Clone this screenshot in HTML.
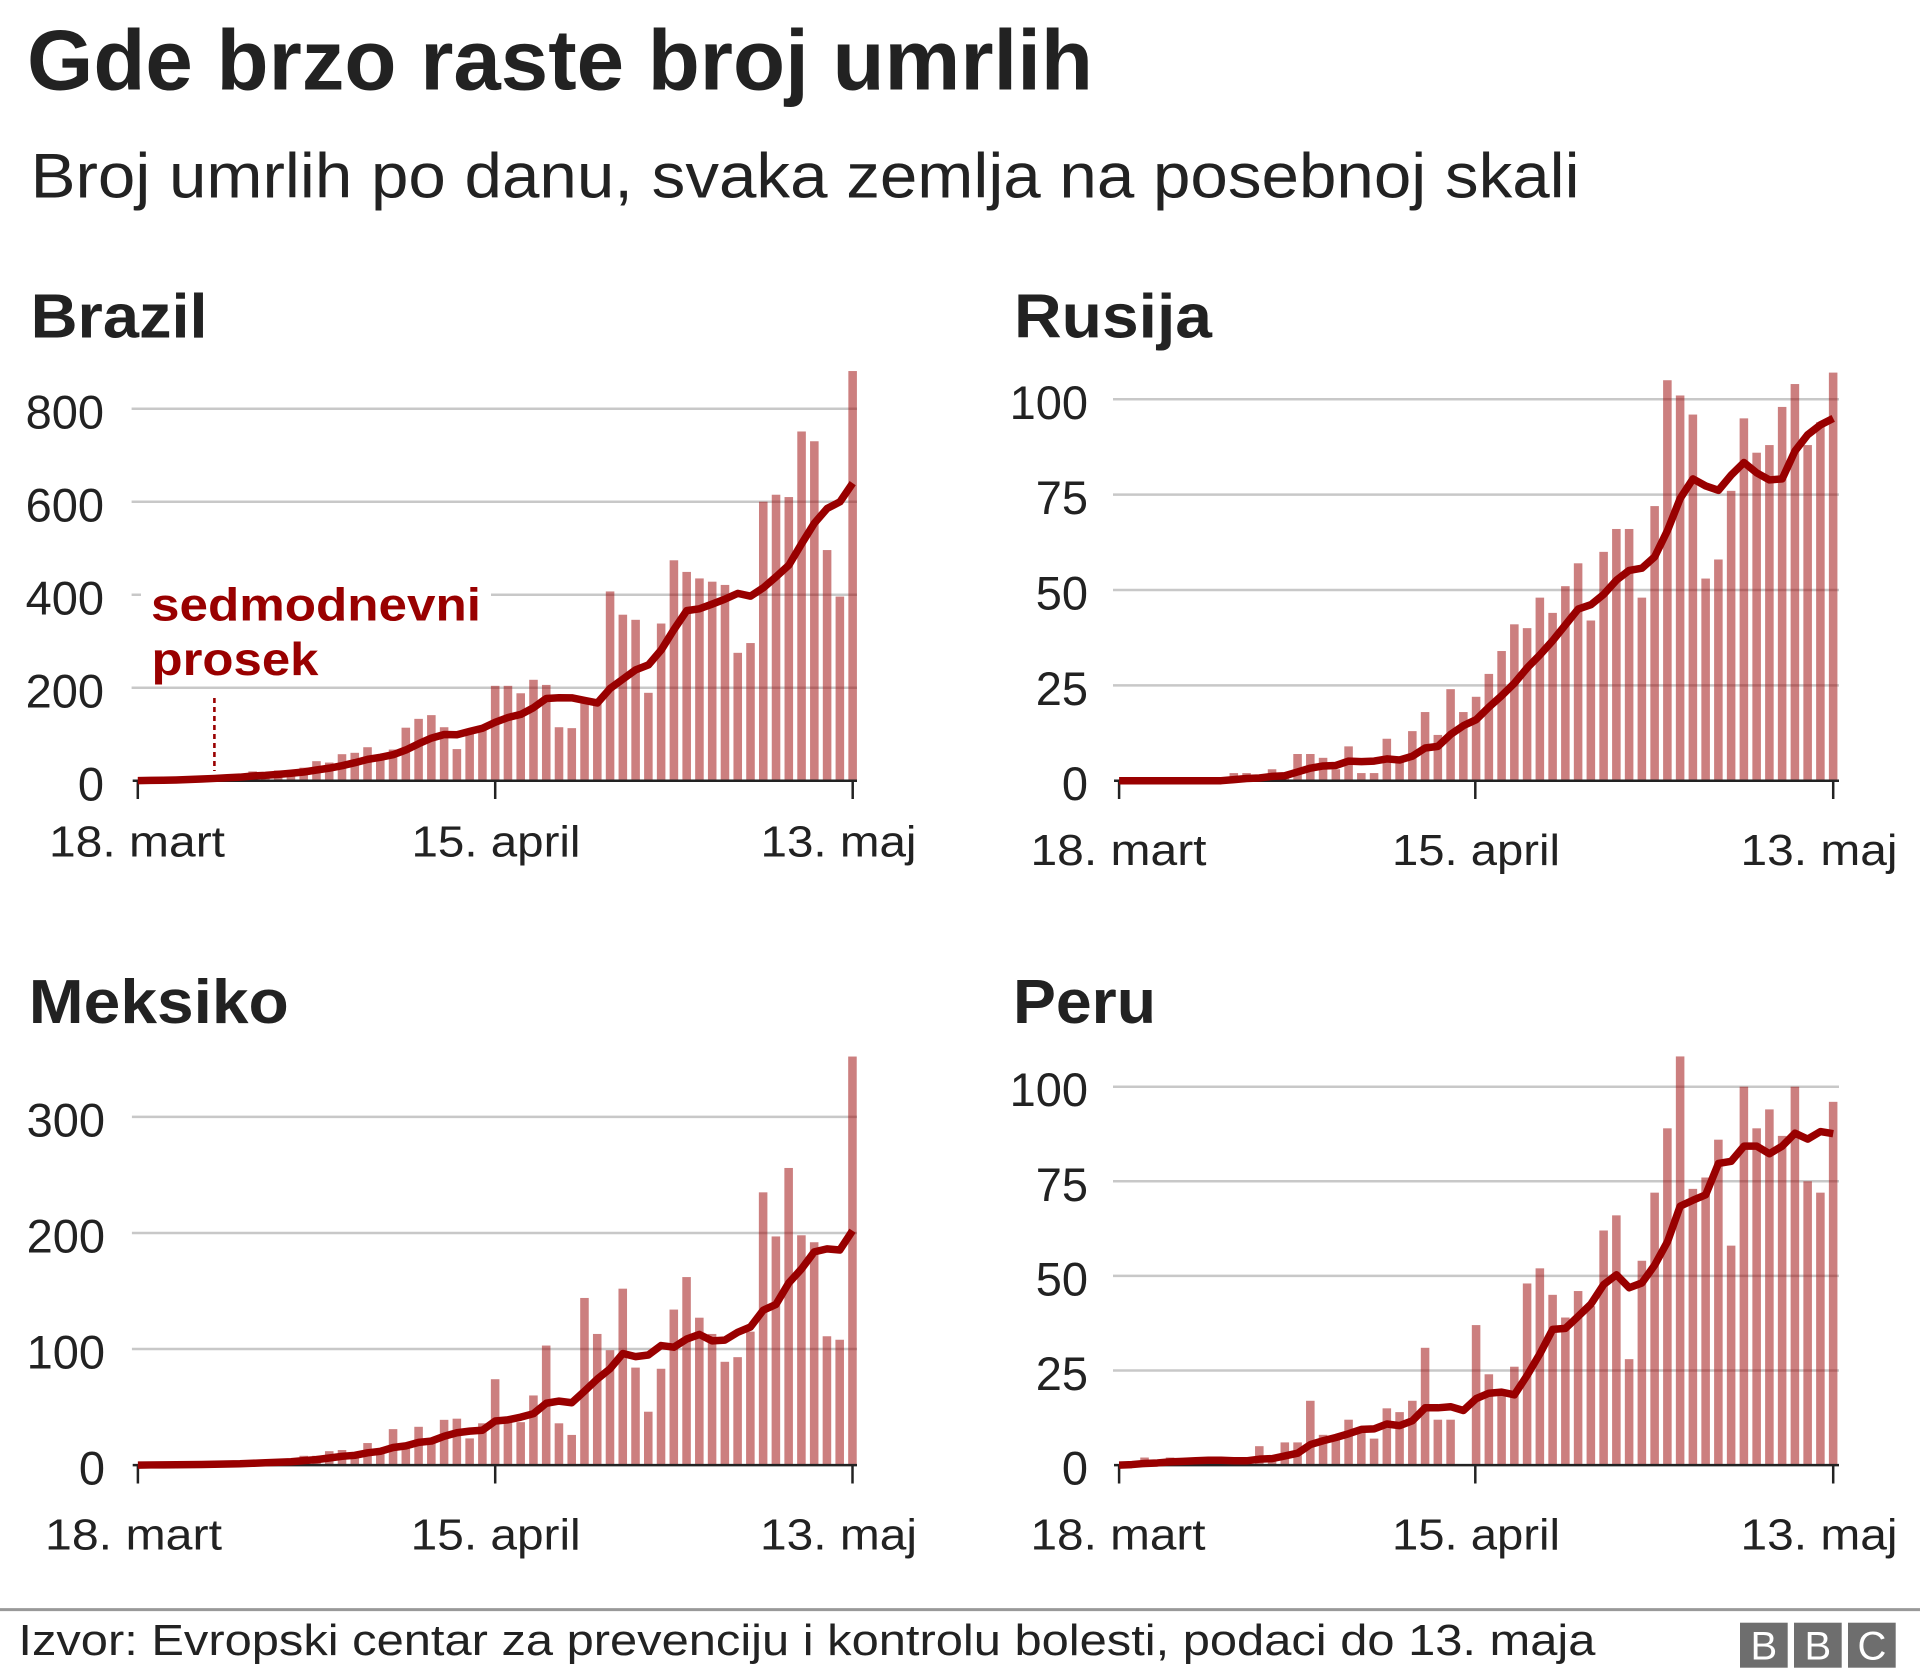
<!DOCTYPE html>
<html><head><meta charset="utf-8">
<style>
html,body{margin:0;padding:0;background:#fff;width:1920px;height:1680px;overflow:hidden}
svg{display:block}
text{font-family:"Liberation Sans",Arial,sans-serif;fill:#222}
.b{font-weight:bold}
.grid line{stroke:#c8c8c8;stroke-width:2.5}
.ax line{stroke:#222;stroke-width:2.5}
.bars rect{fill:#990000;fill-opacity:0.5}
.avg{fill:none;stroke:#990000;stroke-width:7.5;stroke-linejoin:round}
.yl{font-size:47px;text-anchor:end}
.xl{font-size:44px}
</style></head>
<body>
<svg width="1920" height="1680" viewBox="0 0 1920 1680" xmlns="http://www.w3.org/2000/svg">
<rect width="1920" height="1680" fill="#fff"/>

<!-- Titles -->
<text class="b" x="27" y="89.3" font-size="85" textLength="1066" lengthAdjust="spacingAndGlyphs">Gde brzo raste broj umrlih</text>
<text x="30.6" y="197.3" font-size="63" textLength="1549" lengthAdjust="spacingAndGlyphs">Broj umrlih po danu, svaka zemlja na posebnoj skali</text>

<text class="b" x="30.6" y="337.3" font-size="62" textLength="177" lengthAdjust="spacingAndGlyphs">Brazil</text>
<text class="b" x="1014" y="337.3" font-size="62" textLength="198" lengthAdjust="spacingAndGlyphs">Rusija</text>
<text class="b" x="28.8" y="1023" font-size="62" textLength="260" lengthAdjust="spacingAndGlyphs">Meksiko</text>
<text class="b" x="1013" y="1023" font-size="62" textLength="143" lengthAdjust="spacingAndGlyphs">Peru</text>

<!-- ===== BRAZIL ===== -->
<g class="grid">
<line x1="131.6" x2="857" y1="408.7" y2="408.7"/>
<line x1="131.6" x2="857" y1="501.7" y2="501.7"/>
<line x1="131.6" x2="857" y1="594.7" y2="594.7"/>
<line x1="131.6" x2="857" y1="687.7" y2="687.7"/>
</g>
<g class="yl-g">
<text class="yl" x="104" y="428.7">800</text>
<text class="yl" x="104" y="521.7">600</text>
<text class="yl" x="104" y="614.7">400</text>
<text class="yl" x="104" y="707.7">200</text>
<text class="yl" x="104" y="800.5">0</text>
</g>
<!-- annotation background -->
<rect x="141" y="578" width="350" height="104" fill="#fff"/>
<g class="bars" transform="translate(137.8 780.7) scale(12.766 -0.465)">
<rect x="-.34" width=".67" height="1"/><rect x=".66" width=".67" height="3"/><rect x="1.66" width=".67" height="2"/><rect x="2.66" width=".67" height="5"/><rect x="3.66" width=".67" height="7"/><rect x="4.66" width=".67" height="7"/><rect x="5.66" width=".67" height="9"/><rect x="6.66" width=".67" height="12"/><rect x="7.66" width=".67" height="11"/><rect x="8.66" width=".67" height="20"/><rect x="9.66" width=".67" height="15"/><rect x="10.66" width=".67" height="22"/><rect x="11.66" width=".67" height="23"/><rect x="12.66" width=".67" height="28"/><rect x="13.66" width=".67" height="42"/><rect x="14.66" width=".67" height="39"/><rect x="15.66" width=".67" height="57"/><rect x="16.66" width=".67" height="60"/><rect x="17.66" width=".67" height="72"/><rect x="18.66" width=".67" height="54"/><rect x="19.66" width=".67" height="67"/><rect x="20.66" width=".67" height="114"/><rect x="21.66" width=".67" height="133"/><rect x="22.66" width=".67" height="141"/><rect x="23.66" width=".67" height="115"/><rect x="24.66" width=".67" height="68"/><rect x="25.66" width=".67" height="105"/><rect x="26.66" width=".67" height="114"/><rect x="27.66" width=".67" height="204"/><rect x="28.66" width=".67" height="204"/><rect x="29.66" width=".67" height="188"/><rect x="30.66" width=".67" height="217"/><rect x="31.66" width=".67" height="206"/><rect x="32.66" width=".67" height="115"/><rect x="33.66" width=".67" height="113"/><rect x="34.66" width=".67" height="166"/><rect x="35.66" width=".67" height="165"/><rect x="36.66" width=".67" height="407"/><rect x="37.66" width=".67" height="357"/><rect x="38.66" width=".67" height="346"/><rect x="39.66" width=".67" height="189"/><rect x="40.66" width=".67" height="338"/><rect x="41.66" width=".67" height="474"/><rect x="42.66" width=".67" height="449"/><rect x="43.66" width=".67" height="435"/><rect x="44.66" width=".67" height="428"/><rect x="45.66" width=".67" height="421"/><rect x="46.66" width=".67" height="275"/><rect x="47.66" width=".67" height="296"/><rect x="48.66" width=".67" height="600"/><rect x="49.66" width=".67" height="615"/><rect x="50.66" width=".67" height="610"/><rect x="51.66" width=".67" height="751"/><rect x="52.66" width=".67" height="730"/><rect x="53.66" width=".67" height="496"/><rect x="54.66" width=".67" height="396"/><rect x="55.66" width=".67" height="881"/>
</g>
<g class="ax">
<line x1="132.7" x2="857" y1="780.7" y2="780.7"/>
<line x1="137.8" x2="137.8" y1="780" y2="799"/>
<line x1="495.2" x2="495.2" y1="780" y2="799"/>
<line x1="852.7" x2="852.7" y1="780" y2="799"/>
</g>
<g transform="translate(137.8 780.7) scale(12.766 -0.465)">
<polyline class="avg" vector-effect="non-scaling-stroke" points="0,0.14 1,0.57 2,0.86 3,1.57 4,2.57 5,3.57 6,4.86 7,6.43 8,7.57 9,10.14 10,11.57 11,13.71 12,16 13,18.71 14,23 15,27 16,32.29 17,38.71 18,45.86 19,50.29 20,55.86 21,66.14 22,79.57 23,91.57 24,99.43 25,98.86 26,106.14 27,112.86 28,125.71 29,135.86 30,142.57 31,157.14 32,176.86 33,178.29 34,178.14 35,172.71 36,167.14 37,198.43 38,218.43 39,238.43 40,249 41,281.14 42,325.14 43,365.71 44,369.71 45,379.86 46,390.57 47,402.86 48,396.86 49,414.86 50,438.57 51,463.57 52,509.71 53,553.86 54,585.43 55,599.71 56,639.86"/>
</g>
<text class="b" x="151" y="620.7" font-size="46" fill="#990000" style="fill:#990000" textLength="330" lengthAdjust="spacingAndGlyphs">sedmodnevni</text>
<text class="b" x="151.5" y="675" font-size="46" fill="#990000" style="fill:#990000" textLength="167" lengthAdjust="spacingAndGlyphs">prosek</text>
<line x1="214.4" x2="214.4" y1="698" y2="771" stroke="#990000" stroke-width="2.6" stroke-dasharray="5 4"/>
<text class="xl" x="49" y="856.7" textLength="176" lengthAdjust="spacingAndGlyphs">18. mart</text>
<text class="xl" x="411.5" y="856.7" textLength="169" lengthAdjust="spacingAndGlyphs">15. april</text>
<text class="xl" x="760.5" y="856.7" textLength="156" lengthAdjust="spacingAndGlyphs">13. maj</text>

<!-- ===== RUSSIA ===== -->
<g class="grid">
<line x1="1113" x2="1839" y1="399.3" y2="399.3"/>
<line x1="1113" x2="1839" y1="494.65" y2="494.65"/>
<line x1="1113" x2="1839" y1="590" y2="590"/>
<line x1="1113" x2="1839" y1="685.35" y2="685.35"/>
</g>
<text class="yl" x="1088" y="418.8">100</text>
<text class="yl" x="1088" y="514.2">75</text>
<text class="yl" x="1088" y="609.5">50</text>
<text class="yl" x="1088" y="704.9">25</text>
<text class="yl" x="1088" y="800.2">0</text>
<g class="bars" transform="translate(1119.1 780.7) scale(12.752 -3.814)">
<rect x="8.66" width=".67" height="2"/><rect x="9.66" width=".67" height="2"/><rect x="10.66" width=".67" height="1"/><rect x="11.66" width=".67" height="3"/><rect x="12.66" width=".67" height="1"/><rect x="13.66" width=".67" height="7"/><rect x="14.66" width=".67" height="7"/><rect x="15.66" width=".67" height="6"/><rect x="16.66" width=".67" height="3"/><rect x="17.66" width=".67" height="9"/><rect x="18.66" width=".67" height="2"/><rect x="19.66" width=".67" height="2"/><rect x="20.66" width=".67" height="11"/><rect x="21.66" width=".67" height="5"/><rect x="22.66" width=".67" height="13"/><rect x="23.66" width=".67" height="18"/><rect x="24.66" width=".67" height="12"/><rect x="25.66" width=".67" height="24"/><rect x="26.66" width=".67" height="18"/><rect x="27.66" width=".67" height="22"/><rect x="28.66" width=".67" height="28"/><rect x="29.66" width=".67" height="34"/><rect x="30.66" width=".67" height="41"/><rect x="31.66" width=".67" height="40"/><rect x="32.66" width=".67" height="48"/><rect x="33.66" width=".67" height="44"/><rect x="34.66" width=".67" height="51"/><rect x="35.66" width=".67" height="57"/><rect x="36.66" width=".67" height="42"/><rect x="37.66" width=".67" height="60"/><rect x="38.66" width=".67" height="66"/><rect x="39.66" width=".67" height="66"/><rect x="40.66" width=".67" height="48"/><rect x="41.66" width=".67" height="72"/><rect x="42.66" width=".67" height="105"/><rect x="43.66" width=".67" height="101"/><rect x="44.66" width=".67" height="96"/><rect x="45.66" width=".67" height="53"/><rect x="46.66" width=".67" height="58"/><rect x="47.66" width=".67" height="76"/><rect x="48.66" width=".67" height="95"/><rect x="49.66" width=".67" height="86"/><rect x="50.66" width=".67" height="88"/><rect x="51.66" width=".67" height="98"/><rect x="52.66" width=".67" height="104"/><rect x="53.66" width=".67" height="88"/><rect x="54.66" width=".67" height="94"/><rect x="55.66" width=".67" height="107"/>
</g>
<g class="ax">
<line x1="1114" x2="1839" y1="780.7" y2="780.7"/>
<line x1="1119.1" x2="1119.1" y1="780" y2="799"/>
<line x1="1475.3" x2="1475.3" y1="780" y2="799"/>
<line x1="1833.2" x2="1833.2" y1="780" y2="799"/>
</g>
<g transform="translate(1119.1 780.7) scale(12.752 -3.814)">
<polyline class="avg" vector-effect="non-scaling-stroke" points="0,0 1,0 2,0 3,0 4,0 5,0 6,0 7,0 8,0 9,0.29 10,0.57 11,0.71 12,1.14 13,1.29 14,2.29 15,3.29 16,3.86 17,4 18,5.14 19,5 20,5.14 21,5.71 22,5.43 23,6.43 24,8.57 25,9 26,12.14 27,14.43 28,16 29,19.29 30,22.29 31,25.57 32,29.57 33,33 34,36.71 35,40.86 36,45 37,46.14 38,48.86 39,52.57 40,55.14 41,55.71 42,58.71 43,65.57 44,74 45,79.14 46,77.29 47,76.14 48,80.14 49,83.43 50,80.71 51,78.86 52,79.14 53,86.43 54,90.71 55,93.29 56,95"/>
</g>
<text class="xl" x="1030.5" y="865" textLength="176" lengthAdjust="spacingAndGlyphs">18. mart</text>
<text class="xl" x="1392" y="865" textLength="168" lengthAdjust="spacingAndGlyphs">15. april</text>
<text class="xl" x="1740.5" y="865" textLength="157" lengthAdjust="spacingAndGlyphs">13. maj</text>

<!-- ===== MEXICO ===== -->
<g class="grid">
<line x1="131.9" x2="857" y1="1116.9" y2="1116.9"/>
<line x1="131.9" x2="857" y1="1233" y2="1233"/>
<line x1="131.9" x2="857" y1="1349" y2="1349"/>
</g>
<text class="yl" x="105" y="1136.4">300</text>
<text class="yl" x="105" y="1252.5">200</text>
<text class="yl" x="105" y="1368.5">100</text>
<text class="yl" x="105" y="1484.3">0</text>
<g class="bars" transform="translate(137.9 1465.1) scale(12.761 -1.1607)">
<rect x=".66" width=".67" height="1"/><rect x="2.66" width=".67" height="1"/><rect x="3.66" width=".67" height="1"/><rect x="4.66" width=".67" height="1"/><rect x="5.66" width=".67" height="1"/><rect x="6.66" width=".67" height="2"/><rect x="7.66" width=".67" height="2"/><rect x="8.66" width=".67" height="3"/><rect x="9.66" width=".67" height="4"/><rect x="10.66" width=".67" height="4"/><rect x="11.66" width=".67" height="4"/><rect x="12.66" width=".67" height="8"/><rect x="13.66" width=".67" height="8"/><rect x="14.66" width=".67" height="12"/><rect x="15.66" width=".67" height="13"/><rect x="16.66" width=".67" height="10"/><rect x="17.66" width=".67" height="19"/><rect x="18.66" width=".67" height="13"/><rect x="19.66" width=".67" height="31"/><rect x="20.66" width=".67" height="18"/><rect x="21.66" width=".67" height="33"/><rect x="22.66" width=".67" height="21"/><rect x="23.66" width=".67" height="39"/><rect x="24.66" width=".67" height="40"/><rect x="25.66" width=".67" height="23"/><rect x="26.66" width=".67" height="36"/><rect x="27.66" width=".67" height="74"/><rect x="28.66" width=".67" height="40"/><rect x="29.66" width=".67" height="37"/><rect x="30.66" width=".67" height="60"/><rect x="31.66" width=".67" height="103"/><rect x="32.66" width=".67" height="36"/><rect x="33.66" width=".67" height="26"/><rect x="34.66" width=".67" height="144"/><rect x="35.66" width=".67" height="113"/><rect x="36.66" width=".67" height="99"/><rect x="37.66" width=".67" height="152"/><rect x="38.66" width=".67" height="84"/><rect x="39.66" width=".67" height="46"/><rect x="40.66" width=".67" height="83"/><rect x="41.66" width=".67" height="134"/><rect x="42.66" width=".67" height="162"/><rect x="43.66" width=".67" height="127"/><rect x="44.66" width=".67" height="113"/><rect x="45.66" width=".67" height="89"/><rect x="46.66" width=".67" height="93"/><rect x="47.66" width=".67" height="115"/><rect x="48.66" width=".67" height="235"/><rect x="49.66" width=".67" height="197"/><rect x="50.66" width=".67" height="256"/><rect x="51.66" width=".67" height="198"/><rect x="52.66" width=".67" height="192"/><rect x="53.66" width=".67" height="111"/><rect x="54.66" width=".67" height="108"/><rect x="55.66" width=".67" height="352"/>
</g>
<g class="ax">
<line x1="132.7" x2="857" y1="1465.1" y2="1465.1"/>
<line x1="137.9" x2="137.9" y1="1464.4" y2="1483.5"/>
<line x1="495.2" x2="495.2" y1="1464.4" y2="1483.5"/>
<line x1="852.5" x2="852.5" y1="1464.4" y2="1483.5"/>
</g>
<g transform="translate(137.9 1465.1) scale(12.761 -1.1607)">
<polyline class="avg" vector-effect="non-scaling-stroke" points="0,0 1,0.14 2,0.14 3,0.29 4,0.43 5,0.57 6,0.71 7,1 8,1.14 9,1.57 10,2 11,2.43 12,2.86 13,3.86 14,4.71 15,6.14 16,7.57 17,8.43 18,10.57 19,11.86 20,15.14 21,16.57 22,19.57 23,20.71 24,24.86 25,27.86 26,29.29 27,30 28,38 29,39 30,41.29 31,44.29 32,53.29 33,55.14 34,53.71 35,63.71 36,74.14 37,83 38,96.14 39,93.43 40,94.86 41,103 42,101.57 43,108.57 44,112.57 45,107 46,107.71 47,114.43 48,119 49,133.43 50,138.43 51,156.86 52,169 53,183.71 54,186.29 55,185.29 56,202"/>
</g>
<text class="xl" x="45" y="1549.3" textLength="177" lengthAdjust="spacingAndGlyphs">18. mart</text>
<text class="xl" x="410.7" y="1549.3" textLength="170" lengthAdjust="spacingAndGlyphs">15. april</text>
<text class="xl" x="760" y="1549.3" textLength="157" lengthAdjust="spacingAndGlyphs">13. maj</text>

<!-- ===== PERU ===== -->
<g class="grid">
<line x1="1113" x2="1839" y1="1086.7" y2="1086.7"/>
<line x1="1113" x2="1839" y1="1181.3" y2="1181.3"/>
<line x1="1113" x2="1839" y1="1275.9" y2="1275.9"/>
<line x1="1113" x2="1839" y1="1370.5" y2="1370.5"/>
</g>
<text class="yl" x="1088" y="1106">100</text>
<text class="yl" x="1088" y="1200.8">75</text>
<text class="yl" x="1088" y="1295.4">50</text>
<text class="yl" x="1088" y="1390">25</text>
<text class="yl" x="1088" y="1484.3">0</text>
<g class="bars" transform="translate(1119.1 1465.1) scale(12.752 -3.784)">
<rect x=".66" width=".67" height="1"/><rect x="1.66" width=".67" height="2"/><rect x="2.66" width=".67" height="1"/><rect x="3.66" width=".67" height="2"/><rect x="4.66" width=".67" height="1"/><rect x="5.66" width=".67" height="1"/><rect x="6.66" width=".67" height="1"/><rect x="7.66" width=".67" height="1"/><rect x="8.66" width=".67" height="1"/><rect x="9.66" width=".67" height="1"/><rect x="10.66" width=".67" height="5"/><rect x="11.66" width=".67" height="2"/><rect x="12.66" width=".67" height="6"/><rect x="13.66" width=".67" height="6"/><rect x="14.66" width=".67" height="17"/><rect x="15.66" width=".67" height="8"/><rect x="16.66" width=".67" height="7"/><rect x="17.66" width=".67" height="12"/><rect x="18.66" width=".67" height="10"/><rect x="19.66" width=".67" height="7"/><rect x="20.66" width=".67" height="15"/><rect x="21.66" width=".67" height="14"/><rect x="22.66" width=".67" height="17"/><rect x="23.66" width=".67" height="31"/><rect x="24.66" width=".67" height="12"/><rect x="25.66" width=".67" height="12"/><rect x="27.66" width=".67" height="37"/><rect x="28.66" width=".67" height="24"/><rect x="29.66" width=".67" height="19"/><rect x="30.66" width=".67" height="26"/><rect x="31.66" width=".67" height="48"/><rect x="32.66" width=".67" height="52"/><rect x="33.66" width=".67" height="45"/><rect x="34.66" width=".67" height="39"/><rect x="35.66" width=".67" height="46"/><rect x="36.66" width=".67" height="42"/><rect x="37.66" width=".67" height="62"/><rect x="38.66" width=".67" height="66"/><rect x="39.66" width=".67" height="28"/><rect x="40.66" width=".67" height="54"/><rect x="41.66" width=".67" height="72"/><rect x="42.66" width=".67" height="89"/><rect x="43.66" width=".67" height="108"/><rect x="44.66" width=".67" height="73"/><rect x="45.66" width=".67" height="76"/><rect x="46.66" width=".67" height="86"/><rect x="47.66" width=".67" height="58"/><rect x="48.66" width=".67" height="100"/><rect x="49.66" width=".67" height="89"/><rect x="50.66" width=".67" height="94"/><rect x="51.66" width=".67" height="87"/><rect x="52.66" width=".67" height="100"/><rect x="53.66" width=".67" height="75"/><rect x="54.66" width=".67" height="72"/><rect x="55.66" width=".67" height="96"/>
</g>
<g class="ax">
<line x1="1114" x2="1839" y1="1465.1" y2="1465.1"/>
<line x1="1119.1" x2="1119.1" y1="1464.4" y2="1483.5"/>
<line x1="1475.3" x2="1475.3" y1="1464.4" y2="1483.5"/>
<line x1="1833.2" x2="1833.2" y1="1464.4" y2="1483.5"/>
</g>
<g transform="translate(1119.1 1465.1) scale(12.752 -3.784)">
<polyline class="avg" vector-effect="non-scaling-stroke" points="0,0 1,0.14 2,0.43 3,0.57 4,0.86 5,1 6,1.14 7,1.29 8,1.29 9,1.14 10,1.14 11,1.57 12,1.71 13,2.43 14,3.14 15,5.43 16,6.43 17,7.29 18,8.29 19,9.43 20,9.57 21,10.86 22,10.43 23,11.71 24,15.14 25,15.14 26,15.43 27,14.43 28,17.57 29,19 30,19.29 31,18.57 32,23.71 33,29.43 34,35.86 35,36.14 36,39.29 37,42.57 38,47.71 39,50.29 40,46.86 41,48.14 42,52.86 43,59 44,68.43 45,70 46,71.43 47,79.71 48,80.29 49,84.29 50,84.29 51,82.29 52,84.29 53,87.71 54,86.14 55,88.14 56,87.57"/>
</g>
<text class="xl" x="1030.5" y="1549.3" textLength="175" lengthAdjust="spacingAndGlyphs">18. mart</text>
<text class="xl" x="1392" y="1549.3" textLength="168" lengthAdjust="spacingAndGlyphs">15. april</text>
<text class="xl" x="1740.5" y="1549.3" textLength="157" lengthAdjust="spacingAndGlyphs">13. maj</text>

<!-- ===== FOOTER ===== -->
<line x1="0" x2="1920" y1="1609.6" y2="1609.6" stroke="#999" stroke-width="3"/>
<text x="18.4" y="1655" font-size="44" textLength="1577" lengthAdjust="spacingAndGlyphs">Izvor: Evropski centar za prevenciju i kontrolu bolesti, podaci do 13. maja</text>
<rect x="1740" y="1622.7" width="47.7" height="45" fill="#6e6e6e"/>
<rect x="1794" y="1622.7" width="47.7" height="45" fill="#6e6e6e"/>
<rect x="1848" y="1622.7" width="47.7" height="45" fill="#6e6e6e"/>
<text x="1763.9" y="1659.5" font-size="40" text-anchor="middle" style="fill:#fff">B</text>
<text x="1817.9" y="1659.5" font-size="40" text-anchor="middle" style="fill:#fff">B</text>
<text x="1871.9" y="1659.5" font-size="40" text-anchor="middle" style="fill:#fff">C</text>
</svg>
</body></html>
